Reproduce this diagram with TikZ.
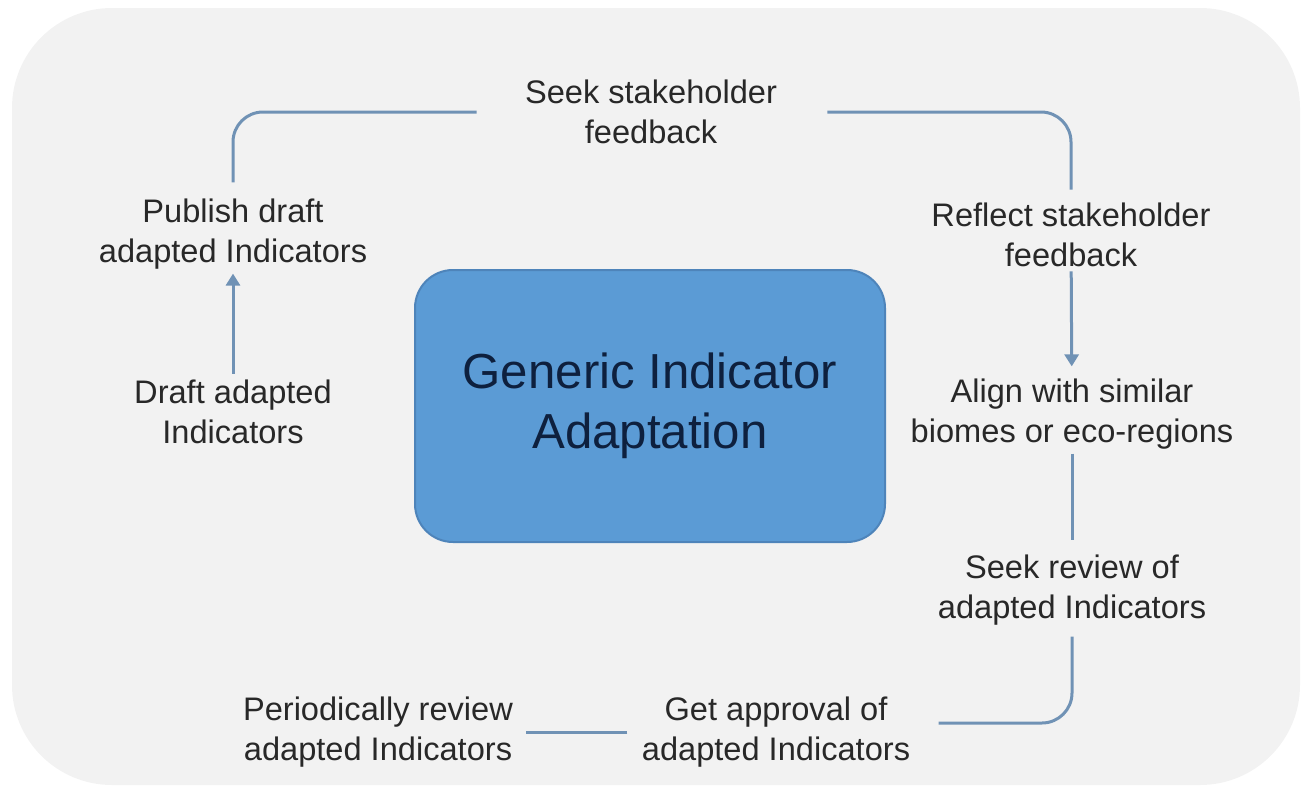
\documentclass[tikz,border=0pt]{standalone}
\usepackage{fontspec}
\setmainfont{Liberation Sans}
\usetikzlibrary{arrows.meta}
\definecolor{bggray}{RGB}{242,242,242}
\definecolor{boxblue}{RGB}{91,155,213}
\definecolor{boxedge}{RGB}{78,132,186}
\definecolor{navytext}{RGB}{14,32,62}
\definecolor{linkblue}{RGB}{112,146,181}
\definecolor{labelgray}{RGB}{40,40,40}
\begin{document}
\begin{tikzpicture}[x=0.5pt, y=-0.5pt,
	step label/.style={align=center, inner sep=2pt, text=labelgray,
		font=\fontsize{16.3pt}{20pt}\selectfont},
	core box/.style={draw=boxedge, line width=1pt, fill=boxblue, rounded corners=19pt,
		minimum width=235pt, minimum height=136pt, align=center, text=navytext,
		font=\fontsize{24.6pt}{30pt}\selectfont},
	link/.style={draw=linkblue, line width=1.5pt, rounded corners=15pt},
	flow/.style={link, -{Triangle[width=7pt,length=6pt]}}]
	\useasboundingbox (0,0) rectangle (1307,787);
	\fill[bggray, rounded corners=50pt] (12,8) rectangle (1300,785);
	% centre
	\node[core box] (core) at (650,406) {Generic Indicator\\Adaptation};
	% steps round the cycle
	\node[step label] (seek) at (651,112) {Seek stakeholder\\feedback};
	\node[step label] (reflect) at (1071,235) {Reflect stakeholder\\feedback};
	\node[step label] (align) at (1072,414) {Align with similar\\biomes or eco-regions};
	\node[step label] (review) at (1072,590) {Seek review of\\adapted Indicators};
	\node[step label] (approval) at (776,732) {Get approval of\\adapted Indicators};
	\node[step label] (period) at (378,732) {Periodically review\\adapted Indicators};
	\node[step label] (draft) at (233,412) {Draft adapted\\Indicators};
	\node[step label] (pub) at (233,234) {Publish draft\\adapted Indicators};
	% connectors
	\draw[flow, shorten <=1pt] (draft) -- (pub);
	\draw[link, shorten <=6pt, shorten >=22pt] (pub.north) |- (seek.west);
	\draw[link, shorten <=23pt, shorten >=4.5pt] (seek.east) -| (reflect.north);
	\draw[flow, shorten >=4pt] (reflect) -- (align);
	\draw[link, shorten >=5pt] (align) -- (review);
	\draw[link, shorten <=3.5pt, shorten >=12pt] (review.south) |- ([yshift=4.5pt]approval.east);
	\draw[link, shorten <=5pt, shorten >=4.5pt] (approval.west) -- (period.east);
\end{tikzpicture}
\end{document}
